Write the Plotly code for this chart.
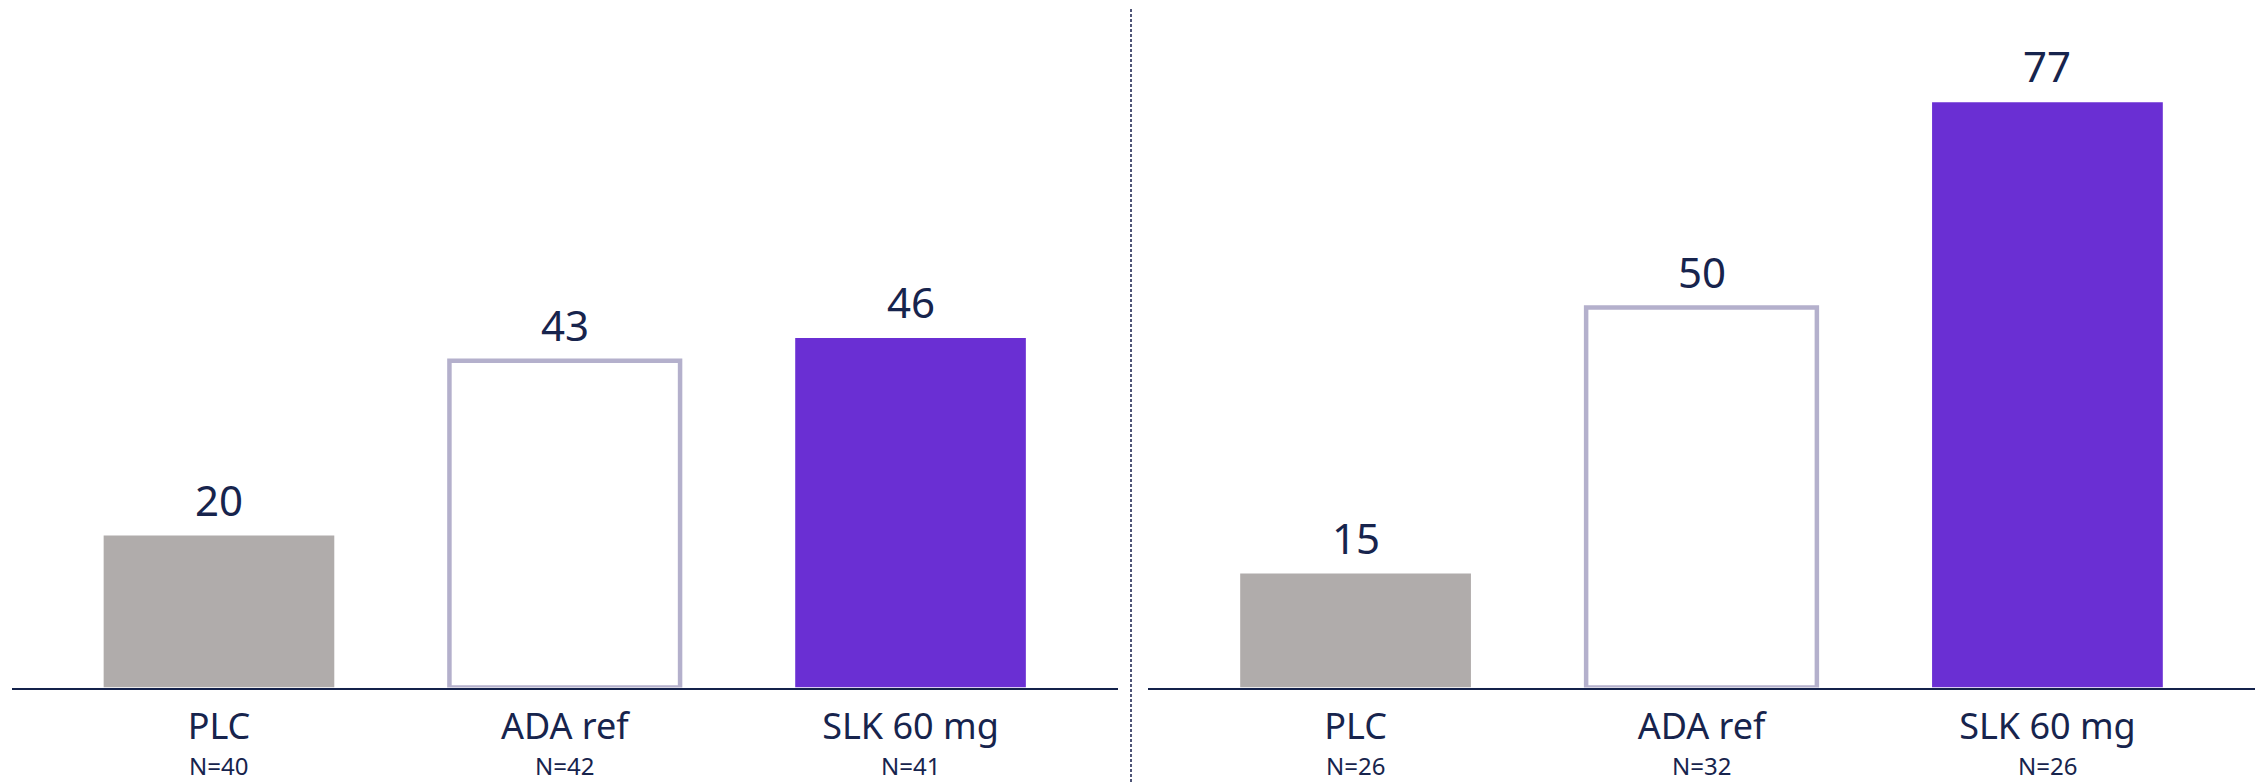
import plotly.graph_objects as go

# Categories and values for the two panels
categories = ["PLC", "ADA ref", "SLK 60 mg"]
left_values = [20, 43, 46]
right_values = [15, 50, 77]
left_n = ["N=40", "N=42", "N=41"]
right_n = ["N=26", "N=32", "N=26"]

# Styling
GRAY = "#b0acab"
PURPLE = "#6a2fd3"
LAVENDER = "#b4b0cc"
NAVY = "#14224b"
TEXT = "#17244d"
FONT = "Noto Sans"

fill_colors = [GRAY, "white", PURPLE]
line_colors = [GRAY, LAVENDER, PURPLE]
line_widths = [0, 4.5, 0]

W, H = 2260, 782
base_px = 687.5          # pixel row of the baseline
px_per_unit = 7.60
y_max = base_px / px_per_unit

fig = go.Figure()

panels = [
    ("x", "y", left_values, left_n),
    ("x2", "y2", right_values, right_n),
]

for xa, ya, vals, ns in panels:
    fig.add_trace(go.Bar(
        x=list(range(len(categories))),
        y=vals,
        xaxis=xa, yaxis=ya,
        marker=dict(color=fill_colors,
                    line=dict(color=line_colors, width=line_widths)),
        width=0.667,
        hoverinfo="skip",
        showlegend=False,
    ))
    for i, (v, n) in enumerate(zip(vals, ns)):
        fig.add_annotation(
            x=i, y=v, xref=xa, yref=ya,
            text=str(v), showarrow=False,
            yanchor="bottom", yshift=6,
            font=dict(family=FONT, size=42, color=TEXT),
        )
        fig.add_annotation(
            x=i, y=0, xref=xa, yref=ya,
            text=n, showarrow=False,
            yanchor="top", yshift=-60, borderpad=0,
            font=dict(family=FONT, size=24, color=TEXT),
        )

y_domain = [(H - base_px) / H, 1.0]
axis_common = dict(
    range=[-0.6, 2.6],
    tickmode="array",
    tickvals=list(range(len(categories))),
    ticktext=categories,
    tickfont=dict(family=FONT, size=36, color=TEXT),
    ticklabelstandoff=6,
    showline=True, linecolor=NAVY, linewidth=2,
    showgrid=False, zeroline=False, ticks="",
    fixedrange=True,
)
yaxis_common = dict(range=[0, y_max], domain=y_domain, visible=False,
                    showgrid=False, zeroline=False, fixedrange=True)

fig.update_layout(
    width=W, height=H,
    margin=dict(l=0, r=0, t=0, b=0),
    paper_bgcolor="white", plot_bgcolor="white",
    xaxis=dict(domain=[11.5 / W, 1118 / W], anchor="y", **axis_common),
    xaxis2=dict(domain=[1148 / W, 2255 / W], anchor="y2", **axis_common),
    yaxis=dict(anchor="x", **yaxis_common),
    yaxis2=dict(anchor="x2", **yaxis_common),
    bargap=0.333,
)

# Dashed divider between the two panels
fig.add_shape(
    type="line", xref="paper", yref="paper",
    x0=1131 / W, x1=1131 / W, y0=0, y1=1 - 7 / H,
    line=dict(color="#4f5577", width=2, dash="3px,2px"),
)

fig.write_html("out.html")
